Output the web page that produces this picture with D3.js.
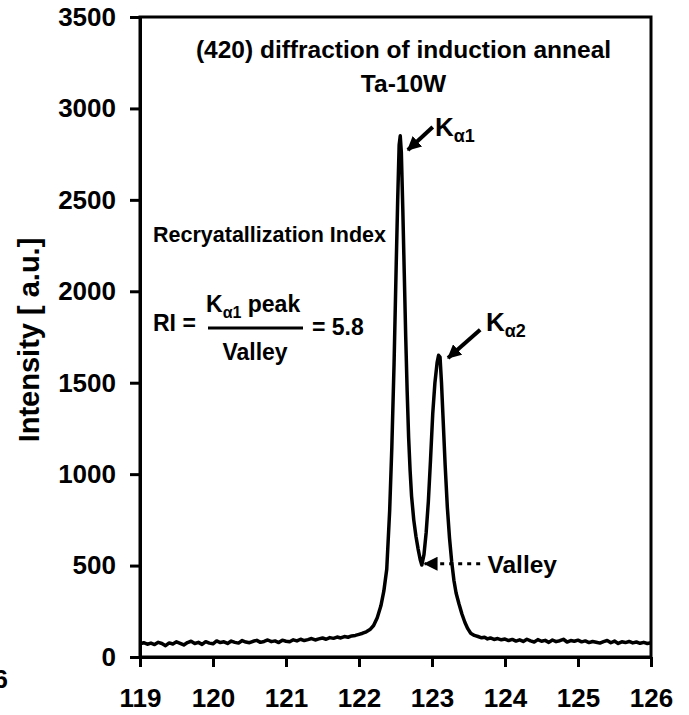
<!DOCTYPE html>
<html>
<head>
<meta charset="utf-8">
<script src="https://cdn.jsdelivr.net/npm/d3@7"></script>
<style>
  body { margin: 0; background: #fff; }
  text { font-family: "Liberation Sans", Arial, sans-serif; font-weight: bold; fill: #000; }
</style>
</head>
<body>
<div class="chart"></div>
<script>
// chart size = window size
var svgWidth = 689;
var svgHeight = 715;

var margin = { top: 17, right: 38, bottom: 58, left: 140 };
var width = svgWidth - margin.left - margin.right;
var height = svgHeight - margin.top - margin.bottom;

// data (2theta, counts)
var twoTheta = [
  119.00, 119.05, 119.10, 119.15, 119.20, 119.25, 119.30, 119.35, 119.40, 119.45,
  119.50, 119.55, 119.60, 119.65, 119.70, 119.75, 119.80, 119.85, 119.90, 119.95,
  120.00, 120.05, 120.10, 120.15, 120.20, 120.25, 120.30, 120.35, 120.40, 120.45,
  120.50, 120.55, 120.60, 120.65, 120.70, 120.75, 120.80, 120.85, 120.90, 120.95,
  121.00, 121.05, 121.10, 121.15, 121.20, 121.25, 121.30, 121.35, 121.40, 121.45,
  121.50, 121.55, 121.60, 121.65, 121.70, 121.75, 121.80, 121.85, 121.90, 121.95,
  122.00, 122.05, 122.10, 122.15, 122.20, 122.25, 122.30, 122.34, 122.38, 122.42,
  122.45, 122.48, 122.51, 122.53, 122.55, 122.565, 122.58, 122.60, 122.62, 122.64,
  122.66, 122.68, 122.70, 122.72, 122.75, 122.78, 122.81, 122.84, 122.86, 122.89,
  122.92, 122.95, 122.98, 123.01, 123.04, 123.07, 123.09, 123.11, 123.13, 123.15,
  123.18, 123.21, 123.24, 123.27, 123.30, 123.33, 123.37, 123.41, 123.45, 123.49,
  123.53, 123.58, 123.63, 123.68, 123.72, 123.76, 123.80, 123.85, 123.90, 123.95,
  124.00, 124.05, 124.10, 124.15, 124.20, 124.25, 124.30, 124.35, 124.40, 124.45,
  124.50, 124.55, 124.60, 124.65, 124.70, 124.75, 124.80, 124.85, 124.90, 124.95,
  125.00, 125.05, 125.10, 125.15, 125.20, 125.25, 125.30, 125.35, 125.40, 125.45,
  125.50, 125.55, 125.60, 125.65, 125.70, 125.75, 125.80, 125.85, 125.90, 125.95,
  126.00
];
var intensity = [
  72, 78, 70, 76, 68, 80, 74, 62, 77, 71,
  83, 75, 66, 79, 86, 74, 80, 69, 84, 76,
  72, 88, 79, 83, 74, 87, 80, 76, 90, 82,
  78, 86, 91, 80, 85, 93, 84, 88, 79, 92,
  86, 83, 94, 88, 97, 90, 95, 101, 93, 99,
  104, 97, 106, 102, 109, 104, 112, 108, 115, 118,
  124, 130, 138, 150, 172, 215, 280, 360, 480, 800,
  1150, 1600, 2150, 2500, 2800, 2850, 2760, 2450, 2100, 1750,
  1450, 1200, 1020, 880, 750, 660, 590, 530, 503, 560,
  680, 850, 1080, 1330, 1500, 1610, 1650, 1640, 1500, 1320,
  1050, 820, 650, 520, 420, 350, 290, 235, 190, 155,
  130, 118, 112, 105, 108, 99, 104, 96, 101, 94,
  98, 90, 96, 87, 94, 85, 97, 88, 82, 95,
  86, 91, 80, 93, 84, 89, 97, 82, 90, 86,
  92, 83, 88, 79, 85, 81, 76, 84, 90, 78,
  87, 74, 83, 79, 85, 77, 82, 75, 80, 74,
  78
];

var xTicks = [119, 120, 121, 122, 123, 124, 125, 126];
var yTicks = [0, 500, 1000, 1500, 2000, 2500, 3000, 3500];

var svg = d3.select(".chart")
  .append("svg")
  .attr("width", svgWidth)
  .attr("height", svgHeight);

var defs = svg.append("defs");
defs.append("marker")
  .attr("id", "head")
  .attr("markerUnits", "userSpaceOnUse")
  .attr("viewBox", "0 0 12 12")
  .attr("refX", 11).attr("refY", 6)
  .attr("markerWidth", 14).attr("markerHeight", 14)
  .attr("orient", "auto")
  .append("path")
  .attr("d", "M0,0 L12,6 L0,12 Z")
  .attr("fill", "#000");

var chartGroup = svg.append("g")
  .attr("transform", `translate(${margin.left}, ${margin.top})`);

var x = d3.scaleLinear().domain([119, 126]).range([0, width]);
var y = d3.scaleLinear().domain([0, 3500]).range([height, 0]);

// frame
chartGroup.append("rect")
  .attr("width", width).attr("height", height)
  .attr("fill", "none").attr("stroke", "#000").attr("stroke-width", 3);

// axes
var xAxis = chartGroup.append("g")
  .attr("transform", `translate(0, ${height})`)
  .call(d3.axisBottom(x).tickValues(xTicks).tickFormat(d3.format("d"))
    .tickSize(10).tickSizeOuter(0).tickPadding(22));
var yAxis = chartGroup.append("g")
  .call(d3.axisLeft(y).tickValues(yTicks).tickFormat(d3.format("d"))
    .tickSize(10).tickSizeOuter(0).tickPadding(14));

[xAxis, yAxis].forEach(function(a) {
  a.select(".domain").attr("stroke-width", 3);
  a.selectAll(".tick line").attr("stroke-width", 3);
  a.selectAll(".tick text")
    .attr("font-family", "Liberation Sans, Arial, sans-serif")
    .attr("font-weight", "bold")
    .attr("font-size", 26);
});

// the scan
var pts = twoTheta.map(function(t, i) { return [t, intensity[i]]; });
var line = d3.line()
  .x(function(d) { return x(d[0]); })
  .y(function(d) { return y(d[1]); });

chartGroup.append("path")
  .datum(pts)
  .attr("d", line)
  .attr("fill", "none")
  .attr("stroke", "#000")
  .attr("stroke-width", 3.5)
  .attr("stroke-linejoin", "round");

// y label
svg.append("text")
  .attr("transform", "translate(39, 340) rotate(-90)")
  .attr("text-anchor", "middle")
  .attr("font-size", 29)
  .text("Intensity [ a.u.]");

// cut off label at the left edge (as in the source image)
svg.append("text")
  .attr("x", 8).attr("y", 688)
  .attr("text-anchor", "end")
  .attr("font-size", 26)
  .text("6");

// title
chartGroup.append("text")
  .attr("x", x(122.61)).attr("y", 41)
  .attr("text-anchor", "middle")
  .attr("font-size", 24.5)
  .text("(420) diffraction of induction anneal");
chartGroup.append("text")
  .attr("x", x(122.61)).attr("y", 75)
  .attr("text-anchor", "middle")
  .attr("font-size", 24.5)
  .text("Ta-10W");

// K alpha labels
function kLabel(px, py, sub) {
  var t = chartGroup.append("text")
    .attr("x", px).attr("y", py)
    .attr("font-size", 26);
  t.append("tspan").text("K");
  t.append("tspan").attr("dy", 6).attr("font-size", 18).text(sub);
  return t;
}
kLabel(x(123.04), y(2900) + 9, "\u03b11");
kLabel(x(123.74), y(1830) + 9, "\u03b12");

// arrows
chartGroup.append("line")
  .attr("x1", x(123.01)).attr("y1", y(2898))
  .attr("x2", x(122.67)).attr("y2", y(2773))
  .attr("stroke", "#000").attr("stroke-width", 4)
  .attr("marker-end", "url(#head)");
chartGroup.append("line")
  .attr("x1", x(123.66)).attr("y1", y(1790))
  .attr("x2", x(123.22)).attr("y2", y(1635))
  .attr("stroke", "#000").attr("stroke-width", 4)
  .attr("marker-end", "url(#head)");
chartGroup.append("line")
  .attr("x1", x(123.66)).attr("y1", y(510))
  .attr("x2", x(122.90)).attr("y2", y(510))
  .attr("stroke", "#000").attr("stroke-width", 3)
  .attr("stroke-dasharray", "4,5")
  .attr("marker-end", "url(#head)");
chartGroup.append("text")
  .attr("x", x(123.76)).attr("y", y(510) + 9)
  .attr("font-size", 24.5)
  .text("Valley");

// recrystallization index formula
chartGroup.append("text")
  .attr("x", 13).attr("y", 225)
  .attr("font-size", 21.5)
  .text("Recryatallization Index");
chartGroup.append("text")
  .attr("x", 13).attr("y", 314)
  .attr("font-size", 23)
  .text("RI =");
var num = chartGroup.append("text")
  .attr("x", 66).attr("y", 295)
  .attr("font-size", 23);
num.append("tspan").text("K");
num.append("tspan").attr("dy", 6).attr("font-size", 16).text("\u03b11");
num.append("tspan").attr("dy", -6).text(" peak");
chartGroup.append("line")
  .attr("x1", 68).attr("x2", 163)
  .attr("y1", 311).attr("y2", 311)
  .attr("stroke", "#000").attr("stroke-width", 3);
chartGroup.append("text")
  .attr("x", 115).attr("y", 343)
  .attr("text-anchor", "middle")
  .attr("font-size", 23)
  .text("Valley");
chartGroup.append("text")
  .attr("x", 172).attr("y", 318)
  .attr("font-size", 23)
  .text("= 5.8");
</script>
</body>
</html>
